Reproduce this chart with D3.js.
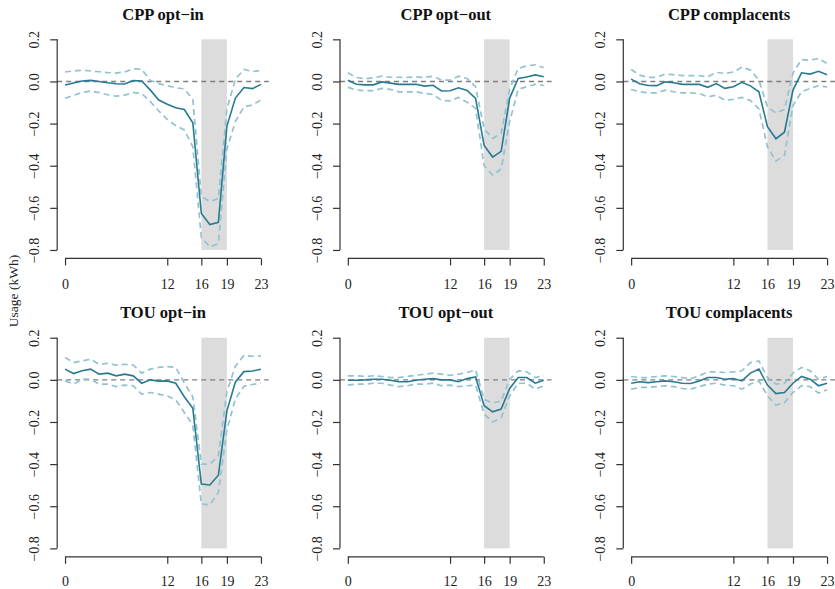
<!DOCTYPE html>
<html>
<head>
<meta charset="utf-8">
<script src="https://cdn.jsdelivr.net/npm/d3@7"></script>
<style>
  body { margin: 0; background: #fff; }
  svg { display: block; font-family: "Liberation Serif", "DejaVu Serif", serif; }
</style>
</head>
<body>
<div id="chart"></div>
<script>
// Hours of the day and axis ticks
const hours = [0, 1, 2, 3, 4, 5, 6, 7, 8, 9, 10, 11, 12, 13, 14, 15, 16, 17, 18, 19, 20, 21, 22, 23];
const xTicks = [0, 12, 16, 19, 23];
const yTicks = [0.2, 0, -0.2, -0.4, -0.6, -0.8];
const peakWindow = [16, 19];
const titles = ["CPP opt\u2212in", "CPP opt\u2212out", "CPP complacents",
                "TOU opt\u2212in", "TOU opt\u2212out", "TOU complacents"];

// Estimated treatment effects (kWh) with upper / lower bounds
const cppOptInMean  = [-0.017, -0.007, 0.002, 0.005, 0.0, -0.006, -0.011, -0.012, 0.004, 0.002, -0.04, -0.088, -0.108, -0.125, -0.133, -0.196, -0.627, -0.679, -0.669, -0.212, -0.079, -0.029, -0.034, -0.014];
const cppOptInUpper = [0.045, 0.05, 0.053, 0.05, 0.046, 0.042, 0.04, 0.045, 0.06, 0.058, 0.005, -0.01, -0.02, -0.03, -0.035, -0.085, -0.545, -0.57, -0.555, -0.13, 0.01, 0.057, 0.047, 0.053];
const cppOptInLower = [-0.08, -0.066, -0.052, -0.045, -0.053, -0.063, -0.07, -0.065, -0.053, -0.057, -0.095, -0.14, -0.18, -0.21, -0.23, -0.31, -0.74, -0.785, -0.77, -0.32, -0.19, -0.12, -0.112, -0.087];

const cppOptOutMean  = [0.006, -0.013, -0.016, -0.016, -0.002, -0.008, -0.014, -0.014, -0.013, -0.022, -0.018, -0.045, -0.044, -0.03, -0.043, -0.081, -0.304, -0.359, -0.332, -0.079, 0.014, 0.021, 0.031, 0.022];
const cppOptOutUpper = [0.041, 0.019, 0.013, 0.017, 0.025, 0.02, 0.02, 0.019, 0.022, 0.019, 0.025, 0.006, 0.006, 0.025, 0.014, -0.025, -0.225, -0.27, -0.247, -0.035, 0.062, 0.074, 0.079, 0.065];
const cppOptOutLower = [-0.028, -0.04, -0.044, -0.044, -0.033, -0.038, -0.049, -0.049, -0.049, -0.057, -0.062, -0.09, -0.092, -0.076, -0.099, -0.128, -0.4, -0.445, -0.415, -0.19, -0.037, -0.025, -0.014, -0.019];

const cppCompMean  = [0.011, -0.011, -0.019, -0.02, -0.002, -0.006, -0.014, -0.014, -0.014, -0.028, -0.01, -0.033, -0.025, -0.004, -0.021, -0.049, -0.215, -0.272, -0.241, -0.041, 0.041, 0.035, 0.048, 0.032];
const cppCompUpper = [0.057, 0.03, 0.019, 0.019, 0.035, 0.032, 0.028, 0.028, 0.027, 0.022, 0.043, 0.038, 0.045, 0.068, 0.054, 0.006, -0.12, -0.15, -0.133, 0.04, 0.104, 0.101, 0.109, 0.085];
const cppCompLower = [-0.038, -0.049, -0.054, -0.054, -0.041, -0.049, -0.054, -0.054, -0.057, -0.073, -0.065, -0.089, -0.085, -0.076, -0.09, -0.13, -0.31, -0.378, -0.35, -0.115, -0.049, -0.033, -0.02, -0.026];

const touOptInMean  = [0.051, 0.03, 0.043, 0.051, 0.027, 0.032, 0.019, 0.027, 0.019, -0.016, 0.0, -0.006, -0.005, -0.016, -0.08, -0.135, -0.495, -0.499, -0.453, -0.147, -0.01, 0.039, 0.042, 0.05];
const touOptInUpper = [0.106, 0.082, 0.09, 0.098, 0.074, 0.078, 0.07, 0.074, 0.07, 0.032, 0.051, 0.059, 0.063, 0.059, -0.015, -0.08, -0.4, -0.4, -0.36, -0.055, 0.065, 0.116, 0.112, 0.114];
const touOptInLower = [-0.005, -0.02, 0.003, 0.003, -0.02, -0.02, -0.032, -0.025, -0.028, -0.068, -0.06, -0.068, -0.076, -0.095, -0.155, -0.215, -0.59, -0.593, -0.535, -0.238, -0.09, -0.03, -0.022, -0.015];

const touOptOutMean  = [-0.002, -0.002, 0.0, 0.003, 0.003, -0.002, -0.009, -0.009, -0.002, 0.003, 0.006, 0.0, 0.0, -0.009, 0.006, 0.014, -0.123, -0.152, -0.139, -0.041, 0.011, 0.011, -0.016, -0.002];
const touOptOutUpper = [0.019, 0.019, 0.016, 0.019, 0.016, 0.011, 0.011, 0.016, 0.022, 0.027, 0.032, 0.027, 0.022, 0.027, 0.035, 0.047, -0.092, -0.11, -0.1, 0.003, 0.043, 0.038, 0.011, 0.019];
const touOptOutLower = [-0.025, -0.02, -0.02, -0.016, -0.016, -0.025, -0.032, -0.028, -0.02, -0.02, -0.016, -0.028, -0.025, -0.032, -0.028, -0.025, -0.163, -0.2, -0.18, -0.076, -0.016, -0.016, -0.044, -0.028];

const touCompMean  = [-0.016, -0.009, -0.013, -0.009, -0.005, -0.009, -0.016, -0.017, -0.005, 0.011, 0.011, 0.003, 0.006, -0.005, 0.032, 0.051, -0.025, -0.065, -0.06, -0.016, 0.016, 0.003, -0.028, -0.016];
const touCompUpper = [0.016, 0.011, 0.011, 0.016, 0.019, 0.016, 0.011, 0.006, 0.019, 0.038, 0.038, 0.035, 0.038, 0.043, 0.082, 0.09, 0.011, -0.02, -0.016, 0.032, 0.059, 0.043, 0.003, 0.016];
const touCompLower = [-0.044, -0.036, -0.036, -0.032, -0.028, -0.032, -0.041, -0.044, -0.032, -0.02, -0.016, -0.025, -0.028, -0.044, -0.02, -0.005, -0.076, -0.12, -0.108, -0.06, -0.028, -0.032, -0.063, -0.047];

const panels = [
  { title: titles[0], mean: cppOptInMean,  upper: cppOptInUpper,  lower: cppOptInLower },
  { title: titles[1], mean: cppOptOutMean, upper: cppOptOutUpper, lower: cppOptOutLower },
  { title: titles[2], mean: cppCompMean,   upper: cppCompUpper,   lower: cppCompLower },
  { title: titles[3], mean: touOptInMean,  upper: touOptInUpper,  lower: touOptInLower },
  { title: titles[4], mean: touOptOutMean, upper: touOptOutUpper, lower: touOptOutLower },
  { title: titles[5], mean: touCompMean,   upper: touCompUpper,   lower: touCompLower }
];

// Layout (plot regions, R-style 4% padding on the domains)
const width = 835;
const height = 589;
const colLeft = [57.2, 340, 623.3];
const rowTop = [30.9, 329.3];
const tickLabelY = [31, 29]; // distance of x tick labels below each row
const plotW = 211.6;
const plotH = 227.5;

const lineColor = "#287a93";
const ciColor = "#93c2d0";
const axisColor = "#333";

const svg = d3.create("svg")
  .attr("width", width)
  .attr("height", height)
  .attr("viewBox", [0, 0, width, height]);

d3.select("#chart").append(() => svg.node());

panels.forEach((p, i) => {
  const row = Math.floor(i / 3);
  const left = colLeft[i % 3];
  const top = rowTop[row];

  const x = d3.scaleLinear().domain([-0.92, 23.92]).range([left, left + plotW]);
  const y = d3.scaleLinear().domain([-0.84, 0.24]).range([top + plotH, top]);

  const g = svg.append("g");

  // peak window shading
  g.append("rect")
    .attr("x", x(peakWindow[0]))
    .attr("width", x(peakWindow[1]) - x(peakWindow[0]))
    .attr("y", y(0.2))
    .attr("height", y(-0.8) - y(0.2))
    .attr("fill", "#dcdcdc");

  // zero reference line
  g.append("line")
    .attr("x1", left).attr("x2", left + plotW)
    .attr("y1", y(0)).attr("y2", y(0))
    .attr("stroke", "#7f7f7f")
    .attr("stroke-width", 1.4)
    .attr("stroke-dasharray", "5,4");

  const line = d3.line().x((d, j) => x(hours[j])).y(d => y(d));

  // confidence bounds
  [p.upper, p.lower].forEach(b => {
    g.append("path")
      .attr("d", line(b))
      .attr("fill", "none")
      .attr("stroke", ciColor)
      .attr("stroke-width", 1.7)
      .attr("stroke-dasharray", "6,4");
  });

  // estimate
  g.append("path")
    .attr("d", line(p.mean))
    .attr("fill", "none")
    .attr("stroke", lineColor)
    .attr("stroke-width", 1.6);

  // x axis
  g.append("g")
    .attr("transform", `translate(0,${top + plotH})`)
    .call(d3.axisBottom(x).tickValues(xTicks).tickSize(7).tickSizeOuter(0))
    .call(a => a.select(".domain").remove())
    .call(a => a.append("line")
      .attr("x1", x(xTicks[0])).attr("x2", x(xTicks[xTicks.length - 1]))
      .attr("stroke", axisColor).attr("stroke-width", 1.2))
    .call(a => a.selectAll(".tick line").attr("stroke", axisColor).attr("stroke-width", 1.2))
    .call(a => a.selectAll(".tick text")
      .attr("y", tickLabelY[row]).attr("dy", 0)
      .attr("fill", "#222")
      .style("font-size", "14px")
      .style("font-family", "'Liberation Serif', serif"));

  // y axis
  g.append("g")
    .attr("transform", `translate(${left},0)`)
    .call(d3.axisLeft(y).tickValues(yTicks).tickFormat(d3.format(".1f")).tickSize(7))
    .call(a => a.select(".domain").remove())
    .call(a => a.append("line")
      .attr("y1", y(yTicks[0])).attr("y2", y(yTicks[yTicks.length - 1]))
      .attr("stroke", axisColor).attr("stroke-width", 1.2))
    .call(a => a.selectAll(".tick line").attr("stroke", axisColor).attr("stroke-width", 1.2))
    .call(a => a.selectAll(".tick text")
      .attr("x", 0).attr("dy", 0)
      .attr("transform", "translate(-18,0) rotate(-90)")
      .attr("text-anchor", "middle")
      .attr("fill", "#222")
      .style("font-size", "14px")
      .style("font-family", "'Liberation Serif', serif"));

  // title
  g.append("text")
    .attr("x", left + plotW / 2)
    .attr("y", top - 11.4)
    .attr("text-anchor", "middle")
    .attr("font-weight", "bold")
    .attr("font-size", 16.5)
    .attr("fill", "#111")
    .text(p.title);
});

// shared y label
svg.append("text")
  .attr("transform", "translate(17.5,291) rotate(-90)")
  .attr("text-anchor", "middle")
  .attr("font-size", 13.5)
  .attr("fill", "#222")
  .text("Usage (kWh)");
</script>
</body>
</html>
